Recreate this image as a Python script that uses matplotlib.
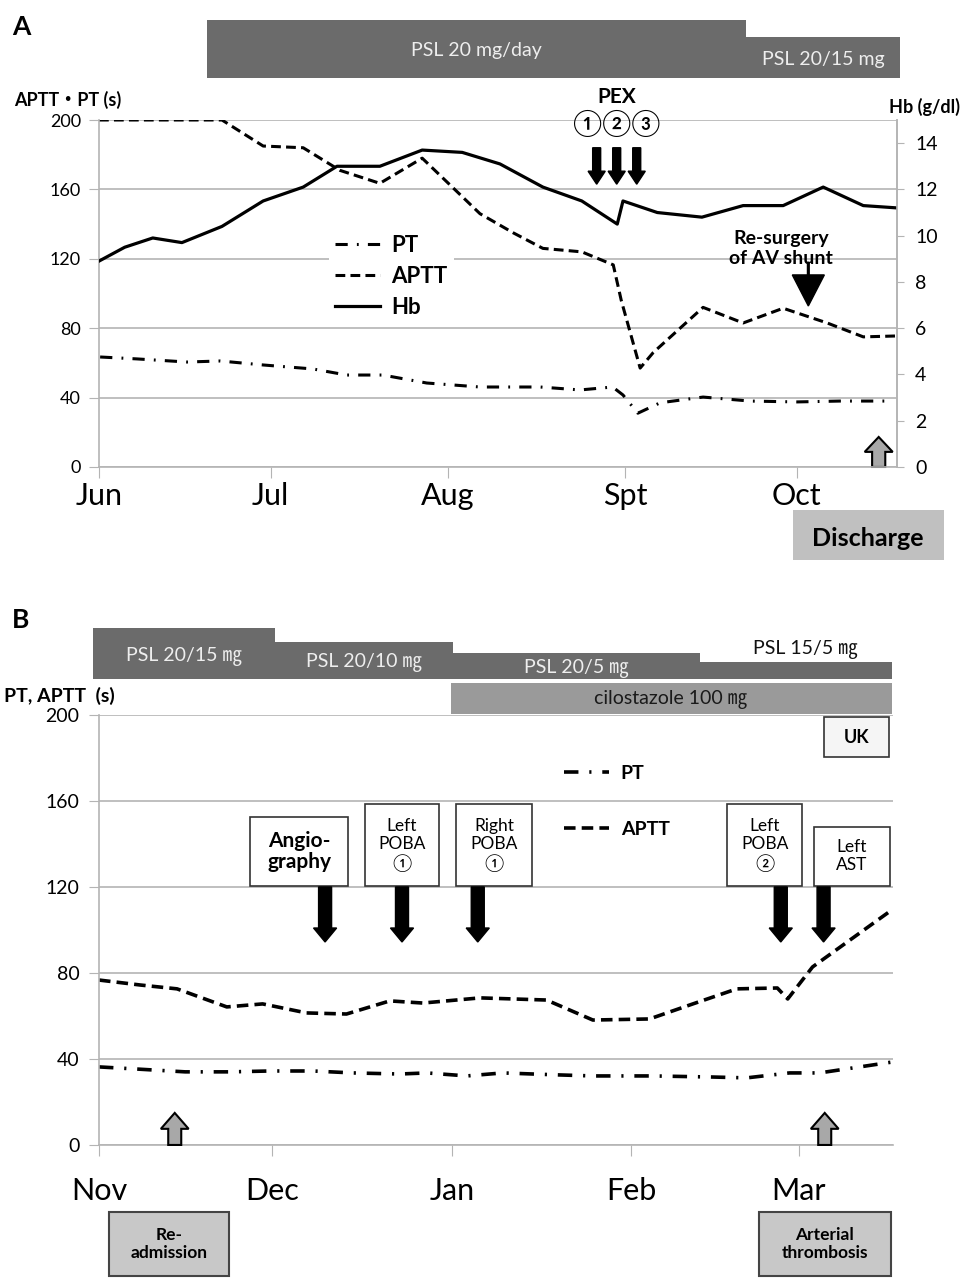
import matplotlib
matplotlib.use("Agg")
import matplotlib.pyplot as plt
import matplotlib.transforms as mtransforms
from matplotlib.patches import Rectangle, FancyArrow

plt.rcParams['font.family'] = ['Lato', 'Noto Sans CJK JP', 'DejaVu Sans']

# ---- Panel A data (x = days from 1 June) ----
a_month_days = [0, 30, 61, 92, 122]
a_month_labels = ['Jun', 'Jul', 'Aug', 'Spt', 'Oct']

a_hb_days = [0, 4.5, 9.4, 14.5, 21.5, 28.7, 35.7, 41.6, 49.1, 56.5, 63.5, 70.1,
             77.6, 84.4, 90.6, 91.6, 97.6, 105.4, 112.6, 119.6, 126.6, 133.6, 139.5]
a_hb = [8.9, 9.5, 9.9, 9.7, 10.4, 11.5, 12.1, 13.0, 13.0, 13.7, 13.6, 13.1,
        12.1, 11.5, 10.5, 11.5, 11.0, 10.8, 11.3, 11.3, 12.1, 11.3, 11.2]

a_aptt_days = [0, 7, 14.5, 21.5, 28.7, 35.7, 42.1, 49.1, 56.5, 66.6, 72.4, 77.6,
               84.4, 89.9, 91.3, 94.6, 96.9, 105.6, 112.6, 119.6, 127.3, 133.6, 139.2]
a_aptt = [200, 200, 200, 200, 185, 184, 171, 163.5, 178, 146, 135, 126,
          124, 116.5, 96, 57, 66, 92, 83, 91.5, 83, 75, 75.5]

a_pt_days = [0.2, 6.6, 15.4, 21.2, 28.7, 37.4, 43.3, 49.6, 57.3, 66.6, 77.1, 84.1,
             89.8, 91.6, 94.2, 98.1, 105.6, 113.8, 122.0, 129.5, 138.8]
a_pt = [63.4, 62.3, 60.5, 61.1, 58.8, 56.5, 53, 53, 48.4, 46.1, 46.1, 44.4,
        46.1, 41.5, 31, 37, 40.3, 38, 37.5, 38, 38]

a_psl = [('PSL 20 mg/day', 18.9, 113.1), ('PSL 20/15 mg', 113.1, 140.0)]
pex_days = [87, 90.5, 94]
resurgery_day = 124
discharge_day = 136.3

# ---- Panel B data (x = days from 1 November) ----
b_month_days = [0, 30, 61, 92, 121]
b_month_labels = ['Nov', 'Dec', 'Jan', 'Feb', 'Mar']

b_aptt_days = [0, 7.1, 13.5, 22.1, 28.3, 35.9, 42.8, 50.3, 56, 65.9, 77.4, 85.4,
               95.2, 102.7, 110.3, 117.3, 119.1, 123.4, 137.1]
b_aptt = [76.7, 74.4, 72.6, 64.2, 65.6, 61.4, 60.9, 67, 66, 68.4, 67.4, 58.1,
          58.6, 65.6, 72.6, 73, 67.9, 82.8, 109.3]

b_pt_days = [0, 6.6, 14.9, 22.6, 29.6, 37, 43.9, 52, 56.7, 63.6, 69.8, 79.2,
             85.4, 95.8, 106, 112, 119.4, 124.6, 137]
b_pt = [36.3, 35.3, 34, 34, 34.4, 34.4, 33.5, 33, 33.5, 32.1, 33.5, 32.6,
        32.1, 32.1, 31.6, 31.2, 33.5, 33.5, 38.5]

b_psl = [('PSL 20/15 ㎎', -1.0, 30.4), ('PSL 20/10 ㎎', 30.4, 61.2),
         ('PSL 20/5 ㎎', 61.2, 103.9), ('PSL 15/5 ㎎', 103.9, 137.1)]
cilostazole = ('cilostazole 100 ㎎', 60.8, 137.1)
uk = ('UK', 125.3, 136.7)
b_event_days = [39.1, 52.4, 65.5, 117.9, 125.3]
b_event_labels = ['Angio-\ngraphy', 'Left\nPOBA\n①', 'Right\nPOBA\n①', 'Left\nPOBA\n②', 'Left\nAST']
readmission_day = 13.1
thrombosis_day = 125.5

GRID = '#b4b4b4'
DARK = '#6b6b6b'
PT_LS = (0, (4, 3, 0.6, 3))
APTT_LS = (0, (3.2, 1.7))

fig = plt.figure(figsize=(9.61, 12.78), dpi=100)


def px(x, y):
    return x / 961, 1 - y / 1278


# ================= Panel A =================
ax = fig.add_axes([0.1030, 0.6346, 0.8304, 0.2715])
ax.set_xlim(0, 139.5)
ax.set_ylim(0, 200)
ax.set_yticks(range(0, 201, 40))
ax.set_xticks(a_month_days, a_month_labels)
ax.yaxis.grid(True, color=GRID, lw=1.2)
ax.set_axisbelow(True)
ax.spines['top'].set_visible(False)
for s in ['left', 'bottom', 'right']:
    ax.spines[s].set_color(GRID)
    ax.spines[s].set_linewidth(1.2)
ax.tick_params(axis='y', length=7, color=GRID, labelsize=13, pad=6)
ax.tick_params(axis='x', length=8, color=GRID, labelsize=22, pad=3)

l_pt, = ax.plot(a_pt_days, a_pt, color='black', lw=2.2, ls=PT_LS, label='PT')
l_aptt, = ax.plot(a_aptt_days, a_aptt, color='black', lw=2.2, ls=APTT_LS, label='APTT')

ax2 = ax.twinx()
ax2.set_ylim(0, 15)
ax2.set_yticks(range(0, 15, 2))
for s in ['left', 'top', 'bottom']:
    ax2.spines[s].set_visible(False)
ax2.spines['right'].set_color(GRID)
ax2.spines['right'].set_linewidth(1.2)
ax2.tick_params(axis='y', length=5, color=GRID, labelsize=14, pad=8)
l_hb, = ax2.plot(a_hb_days, a_hb, color='black', lw=2.3, label='Hb')

ax2.legend([l_pt, l_aptt, l_hb], ['PT', 'APTT', 'Hb'], loc='upper left',
           bbox_to_anchor=(0.274, 0.72), frameon=True, facecolor='white',
           edgecolor='none', framealpha=1, fancybox=False,
           prop={'weight': 'bold', 'size': 16}, handlelength=2.0,
           labelspacing=0.45, handletextpad=0.5, borderpad=0.3)

ta = mtransforms.blended_transform_factory(ax.transData, ax.transAxes)
tops = [1.288, 1.239]
for (label, start, end), top in zip(a_psl, tops):
    ax.add_patch(Rectangle((start, 1.121), end - start, top - 1.121, transform=ta,
                           facecolor=DARK, edgecolor='none', clip_on=False))
    ax.text((start + end) / 2, (1.121 + top) / 2 - 0.005, label, transform=ta,
            ha='center', va='center', color='#eeeeee', fontsize=14)

ax.text(90.5, 1.066, 'PEX', transform=ta, ha='center', va='center',
        fontsize=15, fontweight='bold')
ax.text(90.5, 0.99, '①②③', transform=ta, ha='center', va='center', fontsize=19)
for d in pex_days:
    ax.add_patch(FancyArrow(d, 184, 0, -21, width=1.4, head_width=3.0,
                            head_length=7.5, length_includes_head=True,
                            color='black', clip_on=False))

ax.text(resurgery_day - 4.8, 126, 'Re-surgery\nof AV shunt', ha='center',
        va='center', fontsize=14, fontweight='bold')
ax.add_patch(FancyArrow(resurgery_day, 118, 0, -25.2, width=0.3, head_width=5.6,
                        head_length=17.9, length_includes_head=True, color='black'))

ax.add_patch(FancyArrow(discharge_day, 0, 0, 17.3, width=2.3, head_width=4.9,
                        head_length=8.6, length_includes_head=True,
                        facecolor='#a8a8a8', edgecolor='black', lw=1.5, clip_on=False))
ax.add_patch(Rectangle((121.3, -53.6), 26.4, 28.8, facecolor='#c0c0c0',
                       edgecolor='none', clip_on=False))
ax.text(134.4, -41.5, 'Discharge', ha='center', va='center', fontsize=18,
        fontweight='bold', clip_on=False)

fig.text(*px(12, 27), 'A', ha='left', va='center', fontsize=19, fontweight='bold')
fig.text(*px(14, 100), 'APTT・PT (s)', ha='left', va='center', fontsize=13, fontweight='bold')
fig.text(*px(960, 107), 'Hb (g/dl)', ha='right', va='center', fontsize=13, fontweight='bold')

# ================= Panel B =================
bx = fig.add_axes([0.1030, 0.1041, 0.8262, 0.3365])
bx.set_xlim(0, 137.3)
bx.set_ylim(0, 200)
bx.set_yticks(range(0, 201, 40))
bx.set_xticks(b_month_days, b_month_labels)
bx.yaxis.grid(True, color=GRID, lw=1.2)
bx.set_axisbelow(True)
bx.spines['top'].set_visible(False)
bx.spines['right'].set_visible(False)
for s in ['left', 'bottom']:
    bx.spines[s].set_color(GRID)
    bx.spines[s].set_linewidth(1.2)
bx.tick_params(axis='y', length=7, color=GRID, labelsize=14, pad=7)
bx.tick_params(axis='x', length=8, color=GRID, labelsize=22, pad=15)

bx.plot(b_pt_days, b_pt, color='black', lw=2.6, ls=PT_LS, label='PT')
bx.plot(b_aptt_days, b_aptt, color='black', lw=2.6, ls=APTT_LS, label='APTT')
bx.legend(loc='upper left', bbox_to_anchor=(0.564, 0.925), frameon=False,
          prop={'weight': 'bold', 'size': 14}, handlelength=2.3,
          labelspacing=2.0, handletextpad=0.6)

tb = mtransforms.blended_transform_factory(bx.transData, bx.transAxes)
b_tops = [1.202, 1.170, 1.144, 1.123]
b_text_y = [1.135, 1.121, 1.109, 1.153]
for i, ((label, start, end), top) in enumerate(zip(b_psl, b_tops)):
    bx.add_patch(Rectangle((start, 1.084), end - start, top - 1.084, transform=tb,
                           facecolor=DARK, edgecolor='none', clip_on=False))
    color = '#111111' if i == 3 else '#eeeeee'
    cx = (start + end) / 2 if i < 3 else 122.2
    if i == 2:
        cx = 82.6
    bx.text(cx, b_text_y[i], label, transform=tb, ha='center', va='center',
            color=color, fontsize=14)

label, start, end = cilostazole
bx.add_patch(Rectangle((start, 1.002), end - start, 0.072, transform=tb,
                       facecolor='#9a9a9a', edgecolor='none', clip_on=False))
bx.text(98.9, 1.035, label, transform=tb, ha='center', va='center',
        color='#1a1a1a', fontsize=14)

label, start, end = uk
bx.add_patch(Rectangle((start, 180.5), end - start, 18.5, facecolor='#f5f5f5',
                       edgecolor='#333333', lw=1.2, zorder=3))
bx.text((start + end) / 2, 189.7, label, ha='center', va='center',
        fontsize=13, fontweight='bold', zorder=4)

box_centers = [34.6, 52.4, 68.3, 115.1, 130.2]
box_widths = [16.9, 12.8, 13.1, 13.1, 13.1]
box_tops = [152.6, 158.6, 158.6, 158.6, 147.9]
for i, (d, lab) in enumerate(zip(b_event_days, b_event_labels)):
    c, w, top = box_centers[i], box_widths[i], box_tops[i]
    bx.add_patch(Rectangle((c - w / 2, 120.5), w, top - 120.5, facecolor='white',
                           edgecolor='#333333', lw=1.2, zorder=3))
    if i == 0:
        bx.text(c, (120.5 + top) / 2, lab, ha='center', va='center', fontsize=15,
                fontweight='bold', linespacing=1.1, zorder=4)
    else:
        bx.text(c, (120.5 + top) / 2, lab, ha='center', va='center', fontsize=12.5,
                linespacing=1.15, zorder=4)
    bx.add_patch(FancyArrow(d, 120, 0, -25.6, width=2.25, head_width=4.0,
                            head_length=6.5, length_includes_head=True,
                            color='black', zorder=4))

for d in [readmission_day, thrombosis_day]:
    bx.add_patch(FancyArrow(d, 0, 0, 14.9, width=2.25, head_width=4.8,
                            head_length=7.4, length_includes_head=True,
                            facecolor='#a8a8a8', edgecolor='black', lw=1.5,
                            clip_on=False, zorder=4))

bottom_boxes = [('Re-\nadmission', 1.7, 22.5), ('Arterial\nthrombosis', 114.1, 136.9)]
for lab, start, end in bottom_boxes:
    bx.add_patch(Rectangle((start, -60.9), end - start, 29.7, facecolor='#c8c8c8',
                           edgecolor='#444444', lw=1.5, clip_on=False))
    bx.text((start + end) / 2, -46, lab, ha='center', va='center', fontsize=12.5,
            fontweight='bold', linespacing=1.2, clip_on=False)

fig.text(*px(12, 620), 'B', ha='left', va='center', fontsize=19, fontweight='bold')
fig.text(*px(4, 696), 'PT, APTT  (s)', ha='left', va='center', fontsize=14, fontweight='bold')

fig.savefig('out.png', dpi=100)
